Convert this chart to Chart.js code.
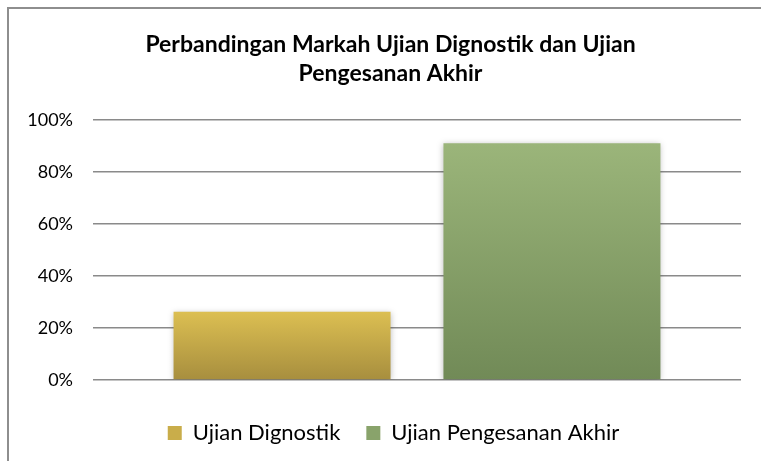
<!DOCTYPE html>
<html>
<head>
<meta charset="utf-8">
<script src="https://cdn.jsdelivr.net/npm/chart.js@4"></script>
<style>
html,body{margin:0;padding:0;background:#fff;}
#wrap{position:relative;width:761px;height:461px;}
</style>
</head>
<body>
<div id="wrap"><canvas id="c" width="761" height="461"></canvas></div>
<script>
const titleLines = ['Perbandingan Markah Ujian Dignostik dan Ujian', 'Pengesanan Akhir'];
const categories = [''];
const seriesNames = ['Ujian Dignostik', 'Ujian Pengesanan Akhir'];
const diagnosticValues = [26.3];
const finalValues = [91.1];
const yTicks = [0, 20, 40, 60, 80, 100];

const FONT = 'Lato, "Open Sans", sans-serif';
const palettes = [
  {top: '#dcbf52', bottom: '#a78e3e', solid: '#c9ad4a'},
  {top: '#9bb57a', bottom: '#718a57', solid: '#89a36b'}
];

function barGradient(ctx, i) {
  const chart = ctx.chart;
  const p = palettes[i];
  const ys = chart.scales && chart.scales.y;
  if (!ys || ctx.raw === undefined) return p.solid;
  const top = ys.getPixelForValue(ctx.raw);
  const base = ys.getPixelForValue(0);
  if (!isFinite(top) || !isFinite(base) || top === base) return p.solid;
  const g = chart.ctx.createLinearGradient(0, top, 0, base);
  g.addColorStop(0, p.top);
  g.addColorStop(1, p.bottom);
  return g;
}

const frame = {
  id: 'frame',
  beforeDraw(chart) {
    const c = chart.ctx;
    c.save();
    c.fillStyle = '#fff';
    c.fillRect(0, 0, chart.width, chart.height);
    c.strokeStyle = '#8e8e8e';
    c.lineWidth = 2;
    c.beginPath();
    c.moveTo(8, chart.height);
    c.lineTo(8, 8);
    c.lineTo(chart.width, 8);
    c.stroke();
    c.restore();
  }
};
const shadow = {
  id: 'shadow',
  beforeDatasetsDraw(chart) {
    const c = chart.ctx;
    c.save();
    c.shadowColor = 'rgba(0,0,0,0.25)';
    c.shadowBlur = 6;
    c.shadowOffsetX = 0;
    c.shadowOffsetY = 1;
  },
  afterDatasetsDraw(chart) {
    chart.ctx.restore();
  }
};
const shiftBoxes = {
  id: 'shiftBoxes',
  afterLayout(chart) {
    if (chart.titleBlock) { chart.titleBlock.left += 10; chart.titleBlock.right += 10; }
    if (chart.legend) { chart.legend.left += 13; chart.legend.right += 13; }
  }
};

new Chart(document.getElementById('c'), {
  type: 'bar',
  data: {
    labels: categories,
    datasets: [
      {label: seriesNames[0], data: diagnosticValues, backgroundColor: (ctx) => barGradient(ctx, 0)},
      {label: seriesNames[1], data: finalValues, backgroundColor: (ctx) => barGradient(ctx, 1)}
    ]
  },
  options: {
    responsive: false,
    animation: false,
    devicePixelRatio: 1,
    layout: {padding: {left: 20, right: 20, top: 31, bottom: 7}},
    datasets: {bar: {barPercentage: 0.804, categoryPercentage: 0.833}},
    plugins: {
      title: {
        display: true,
        text: titleLines,
        color: '#000',
        font: {family: FONT, size: 23, weight: 'bold', lineHeight: 1.22},
        padding: {top: 0, bottom: 33}
      },
      legend: {
        position: 'bottom',
        labels: {
          color: '#000',
          font: {family: FONT, size: 22},
          boxWidth: 14,
          boxHeight: 14,
          padding: 26,
          generateLabels(chart) {
            return chart.data.datasets.map((d, i) => ({
              text: d.label,
              fillStyle: palettes[i].solid,
              strokeStyle: palettes[i].solid,
              lineWidth: 0,
              datasetIndex: i,
              hidden: false
            }));
          }
        }
      },
      tooltip: {enabled: false}
    },
    scales: {
      x: {
        grid: {display: false},
        border: {display: false},
        ticks: {display: false},
        afterFit(scale) { scale.height = 16; }
      },
      y: {
        min: 0,
        max: 100,
        afterBuildTicks(scale) { scale.ticks = yTicks.map(v => ({value: v})); },
        afterFit(scale) { scale.width = 73; },
        border: {display: false},
        grid: {color: '#8a8a8a', lineWidth: 1.5, drawTicks: false},
        ticks: {
          color: '#000',
          padding: 20,
          font: {family: FONT, size: 18},
          callback: (v) => v + '%'
        }
      }
    }
  },
  plugins: [frame, shadow, shiftBoxes]
});
</script>
</body>
</html>
